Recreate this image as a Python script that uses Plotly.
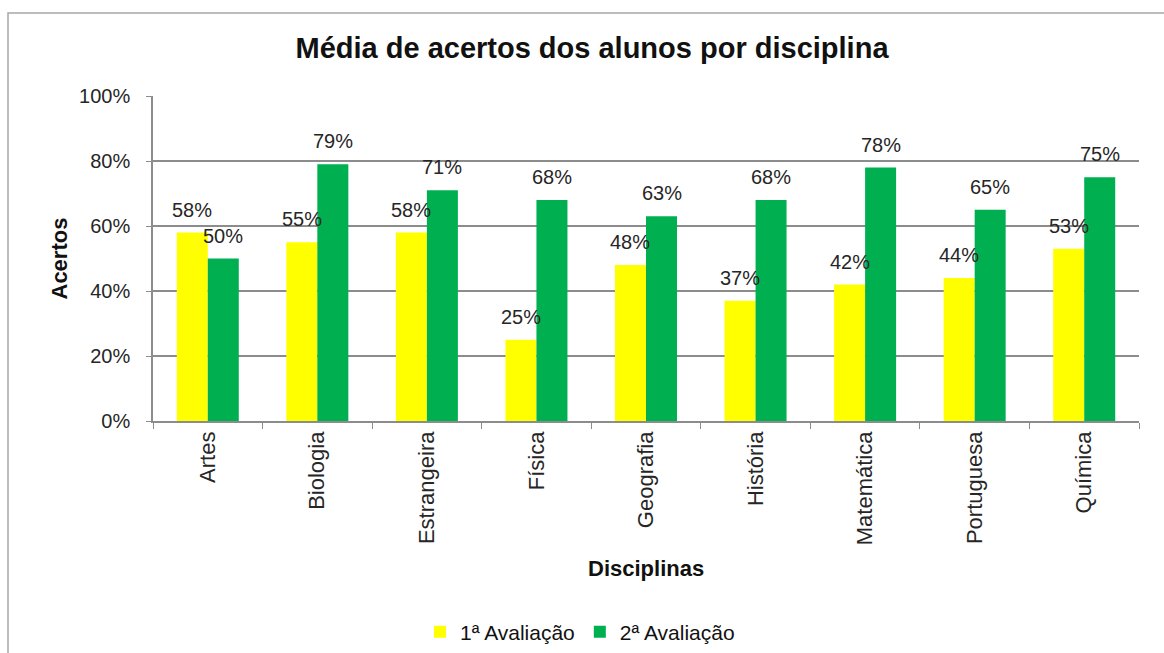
import plotly.graph_objects as go

disciplinas = ["Artes", "Biologia", "Estrangeira", "Física", "Geografia",
               "História", "Matemática", "Portuguesa", "Química"]
avaliacao_1 = [58, 55, 58, 25, 48, 37, 42, 44, 53]
avaliacao_2 = [50, 79, 71, 68, 63, 68, 78, 65, 75]
serie_nomes = ["1ª Avaliação", "2ª Avaliação"]
y_ticks = [0, 20, 40, 60, 80, 100]
y_tick_labels = ["0%", "20%", "40%", "60%", "80%", "100%"]

W, H = 1164, 653
L, R, T, B = 153, 25, 96, 232
pw, ph = W - L - R, H - T - B

AMARELO = "#FFFF00"
VERDE = "#00B050"
CINZA = "#8C8C8C"
FONTE = "Liberation Sans, Arial, sans-serif"

fig = go.Figure()
fig.add_trace(go.Bar(x=disciplinas, y=avaliacao_1, name=serie_nomes[0],
                     marker=dict(color=AMARELO, line=dict(width=0))))
fig.add_trace(go.Bar(x=disciplinas, y=avaliacao_2, name=serie_nomes[1],
                     marker=dict(color=VERDE, line=dict(width=0))))

# value labels above each bar
bar_px = pw / len(disciplinas) * (1 - 0.434) / 2
annotations = []
for serie, shift in ((avaliacao_1, -bar_px / 2), (avaliacao_2, bar_px / 2)):
    for cat, v in zip(disciplinas, serie):
        annotations.append(dict(
            x=cat, y=v, xref="x", yref="y", text=f"{v}%", showarrow=False,
            xshift=shift, yshift=10, yanchor="bottom", xanchor="center",
            font=dict(family=FONTE, size=20, color="#262626")))

# axis titles
annotations.append(dict(
    text="<b>Acertos</b>", xref="paper", yref="paper",
    x=(59 - L) / pw, y=0.5, textangle=-90, showarrow=False,
    xanchor="center", yanchor="middle",
    font=dict(family=FONTE, size=22, color="#111")))
annotations.append(dict(
    text="<b>Disciplinas</b>", xref="paper", yref="paper",
    x=0.5, y=-(568 - (T + ph)) / ph, showarrow=False,
    xanchor="center", yanchor="middle",
    font=dict(family=FONTE, size=22, color="#111")))

fig.update_layout(
    width=W, height=H,
    margin=dict(l=L, r=R, t=T, b=B),
    paper_bgcolor="white", plot_bgcolor="white",
    barmode="group", bargap=0.434, bargroupgap=0,
    title=dict(text="<b>Média de acertos dos alunos por disciplina</b>",
               x=592 / W, y=1 - 48 / H, xanchor="center", yanchor="middle",
               font=dict(family=FONTE, size=29, color="#111")),
    legend=dict(orientation="h", xref="container", yref="container",
                x=580 / W, y=1 - 632 / H, xanchor="center", yanchor="middle",
                font=dict(family=FONTE, size=21, color="#111"),
                itemwidth=30, tracegroupgap=0, traceorder="normal"),
    annotations=annotations,
    shapes=[dict(type="rect", xref="paper", yref="paper",
                 x0=(8 - L) / pw, x1=1.3, y0=-1.5, y1=1 + (T - 13) / ph,
                 line=dict(color="#A6A6A6", width=1.5), layer="below")],
)

fig.update_xaxes(
    type="category", showline=True, linecolor=CINZA, linewidth=1.5,
    ticks="outside", tickson="boundaries", ticklen=6, tickcolor=CINZA,
    tickwidth=1.3, tickangle=-90, showgrid=False,
    tickfont=dict(family=FONTE, size=22, color="#262626"))
fig.update_yaxes(
    range=[0, 100], tickvals=y_ticks, ticktext=y_tick_labels,
    showline=True, linecolor=CINZA, linewidth=1.5,
    ticks="outside", ticklen=5, tickcolor=CINZA, tickwidth=1.3,
    ticklabelstandoff=12,
    showgrid=True, gridcolor=CINZA, gridwidth=1.5, zeroline=False,
    tickfont=dict(family=FONTE, size=20, color="#262626"))

fig.write_html("out.html")
